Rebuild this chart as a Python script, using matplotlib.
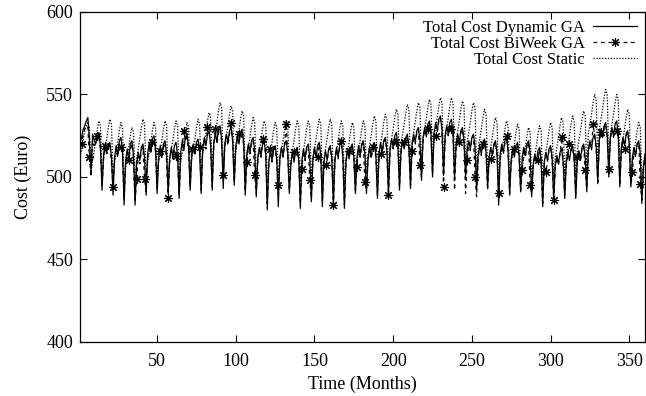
import numpy as np
import matplotlib
matplotlib.use("Agg")
import matplotlib.pyplot as plt

plt.rcParams['font.family'] = ['Liberation Serif', 'DejaVu Serif']

# ---------------- data ----------------
months = np.arange(1, 361)

dynamic_ga = [
    520, 524, 529, 531, 534, 536, 522,   # 1-7
    503, 526, 522, 520, 525, 527, 518,   # 8-14
    492, 514, 520, 515, 519, 521, 512,   # 15-21
    489, 512, 519, 513, 522, 524, 516,   # 22-28
    483, 510, 517, 511, 520, 522, 513,   # 29-35
    483, 508, 515, 510, 518, 520, 512,   # 36-42
    489, 514, 521, 515, 523, 525, 517,   # 43-49
    490, 512, 519, 512, 520, 522, 514,   # 50-56
    490, 511, 518, 512, 519, 521, 513,   # 57-63
    487, 515, 522, 516, 524, 526, 518,   # 64-70
    492, 513, 520, 514, 521, 523, 515,   # 71-77
    490, 518, 524, 519, 526, 528, 520,   # 78-84
    492, 520, 527, 521, 529, 531, 523,   # 85-91
    493, 520, 526, 521, 528, 530, 522,   # 92-98
    495, 519, 525, 520, 527, 529, 521,   # 99-105
    489, 514, 520, 515, 522, 524, 516,   # 106-112
    488, 512, 518, 513, 520, 522, 514,   # 113-119
    480, 509, 516, 510, 517, 519, 511,   # 120-126
    482, 512, 518, 513, 520, 522, 514,   # 127-133
    490, 508, 515, 509, 516, 518, 510,   # 134-140
    481, 510, 517, 511, 518, 520, 512,   # 141-147
    485, 511, 518, 512, 519, 521, 513,   # 148-154
    482, 509, 516, 510, 517, 519, 511,   # 155-161
    482, 511, 518, 512, 519, 521, 513,   # 162-168
    481, 510, 517, 511, 518, 520, 512,   # 169-175
    490, 512, 519, 513, 520, 522, 514,   # 176-182
    490, 511, 518, 512, 519, 521, 513,   # 183-189
    487, 514, 521, 515, 522, 524, 516,   # 190-196
    489, 517, 523, 518, 525, 527, 519,   # 197-203
    492, 516, 522, 517, 524, 526, 518,   # 204-210
    493, 520, 526, 521, 528, 530, 522,   # 211-217
    498, 524, 530, 525, 532, 534, 526,   # 218-224
    500, 527, 533, 528, 535, 537, 529,   # 225-231
    501, 525, 531, 526, 533, 535, 527,   # 232-238
    499, 520, 526, 521, 528, 530, 522,   # 239-245
    500, 516, 522, 517, 524, 526, 518,   # 246-252
    492, 513, 519, 514, 521, 523, 515,   # 253-259
    494, 512, 518, 513, 520, 522, 514,   # 260-266
    483, 514, 520, 515, 522, 524, 516,   # 267-273
    489, 511, 517, 512, 519, 521, 513,   # 274-280
    491, 512, 518, 513, 520, 522, 514,   # 281-287
    488, 508, 514, 509, 516, 518, 510,   # 288-294
    482, 509, 515, 510, 517, 519, 511,   # 295-301
    487, 507, 513, 508, 515, 517, 509,   # 302-308
    487, 509, 515, 510, 517, 519, 511,   # 309-315
    487, 510, 516, 511, 518, 520, 512,   # 316-322
    491, 516, 522, 517, 524, 526, 518,   # 323-329
    496, 523, 529, 524, 531, 533, 525,   # 330-336
    500, 524, 530, 525, 532, 534, 526,   # 337-343
    494, 518, 524, 519, 526, 528, 520,   # 344-350
    494, 512, 518, 513, 520, 522, 514,   # 351-357
    484, 505, 514,                       # 358-360
]

biweek_ga = [
    519, 520, 526, 529, 531, 530, 512,   # 1-7
    500, 522, 519, 521, 525, 524, 517,   # 8-14
    494, 512, 519, 514, 518, 520, 508,   # 15-21
    494, 512, 517, 512, 520, 518, 514,   # 22-28
    486, 508, 515, 510, 517, 520, 512,   # 29-35
    486, 499, 513, 508, 516, 518, 499,   # 36-42
    491, 512, 519, 514, 521, 523, 515,   # 43-49
    493, 511, 516, 511, 518, 521, 510,   # 50-56
    487, 510, 517, 511, 517, 513, 511,   # 57-63
    489, 514, 520, 528, 522, 524, 516,   # 64-70
    494, 517, 519, 513, 520, 521, 518,   # 71-77
    492, 516, 523, 517, 530, 527, 519,   # 78-84
    494, 519, 529, 520, 527, 529, 521,   # 85-91
    501, 519, 525, 519, 526, 533, 521,   # 92-98
    497, 518, 523, 526, 525, 527, 519,   # 99-105
    491, 509, 519, 514, 521, 522, 501,   # 106-112
    490, 511, 517, 512, 523, 521, 513,   # 113-119
    484, 508, 517, 509, 516, 518, 509,   # 120-126
    495, 511, 517, 512, 519, 532, 513,   # 127-133
    492, 507, 514, 515, 515, 517, 509,   # 134-140
    484, 505, 516, 510, 517, 518, 498,   # 141-147
    487, 510, 517, 511, 512, 520, 512,   # 148-154
    485, 508, 507, 509, 516, 518, 510,   # 155-161
    483, 510, 517, 511, 518, 522, 512,   # 162-168
    483, 509, 516, 516, 517, 519, 511,   # 169-175
    492, 506, 518, 512, 519, 521, 497,   # 176-182
    492, 510, 517, 511, 518, 520, 512,   # 183-189
    489, 513, 514, 514, 521, 523, 515,   # 190-196
    489, 516, 522, 517, 524, 521, 518,   # 197-203
    494, 515, 521, 521, 523, 525, 517,   # 204-210
    495, 516, 525, 520, 527, 529, 507,   # 211-217
    500, 523, 529, 524, 529, 533, 525,   # 218-224
    502, 526, 525, 527, 534, 536, 528,   # 225-231
    494, 524, 530, 525, 532, 529, 526,   # 232-238
    492, 519, 525, 521, 527, 529, 521,   # 239-245
    490, 510, 521, 516, 523, 525, 500,   # 246-252
    488, 512, 518, 513, 520, 522, 514,   # 253-259
    492, 511, 511, 512, 519, 521, 513,   # 260-266
    490, 513, 519, 514, 521, 525, 515,   # 267-273
    490, 510, 516, 517, 518, 520, 512,   # 274-280
    492, 504, 517, 512, 519, 521, 495,   # 281-287
    490, 507, 513, 508, 510, 517, 509,   # 288-294
    484, 508, 503, 509, 516, 518, 510,   # 295-301
    486, 506, 512, 507, 514, 524, 508,   # 302-308
    489, 508, 514, 520, 516, 518, 510,   # 309-315
    489, 512, 515, 510, 517, 519, 504,   # 316-322
    493, 515, 521, 516, 532, 525, 517,   # 323-329
    497, 522, 527, 523, 530, 532, 524,   # 330-336
    505, 523, 529, 524, 531, 528, 525,   # 337-343
    495, 517, 523, 517, 525, 527, 519,   # 344-350
    495, 503, 517, 512, 519, 521, 496,   # 351-357
    486, 504, 512,                       # 358-360
]

static_cost = [
    512, 516, 522, 528, 531, 533, 530,   # 1-7
    503, 510, 516, 522, 529, 534, 531,   # 8-14
    500, 511, 517, 523, 530, 535, 532,   # 15-21
    499, 509, 515, 521, 528, 533, 530,   # 22-28
    497, 506, 512, 518, 525, 530, 527,   # 29-35
    498, 511, 517, 523, 530, 535, 532,   # 36-42
    500, 509, 515, 521, 528, 533, 530,   # 43-49
    501, 510, 516, 522, 529, 534, 531,   # 50-56
    500, 510, 516, 522, 529, 534, 531,   # 57-63
    499, 509, 515, 521, 528, 533, 530,   # 64-70
    502, 511, 517, 523, 530, 535, 532,   # 71-77
    502, 515, 521, 527, 534, 539, 536,   # 78-84
    504, 521, 527, 533, 540, 545, 542,   # 85-91
    505, 519, 525, 531, 538, 543, 540,   # 92-98
    506, 516, 522, 528, 535, 540, 537,   # 99-105
    501, 512, 518, 524, 531, 536, 533,   # 106-112
    500, 510, 516, 522, 529, 534, 531,   # 113-119
    496, 509, 515, 521, 528, 533, 530,   # 120-126
    497, 510, 516, 522, 529, 534, 531,   # 127-133
    502, 510, 516, 522, 529, 534, 531,   # 134-140
    497, 510, 516, 522, 529, 534, 531,   # 141-147
    499, 511, 517, 523, 530, 535, 532,   # 148-154
    497, 511, 517, 523, 530, 535, 532,   # 155-161
    497, 510, 516, 522, 529, 534, 531,   # 162-168
    496, 509, 515, 521, 528, 533, 530,   # 169-175
    502, 510, 516, 522, 529, 534, 531,   # 176-182
    502, 513, 519, 525, 532, 537, 534,   # 183-189
    500, 514, 520, 526, 533, 538, 535,   # 190-196
    502, 517, 523, 529, 536, 541, 538,   # 197-203
    504, 520, 526, 532, 539, 544, 541,   # 204-210
    505, 521, 527, 533, 540, 545, 542,   # 211-217
    508, 523, 529, 535, 542, 547, 544,   # 218-224
    510, 524, 530, 536, 543, 548, 545,   # 225-231
    510, 524, 530, 536, 543, 548, 545,   # 232-238
    509, 522, 528, 534, 541, 546, 543,   # 239-245
    509, 521, 527, 533, 540, 545, 542,   # 246-252
    503, 517, 523, 529, 536, 541, 538,   # 253-259
    504, 512, 518, 524, 531, 536, 533,   # 260-266
    497, 510, 516, 522, 529, 534, 531,   # 267-273
    500, 508, 514, 520, 527, 532, 529,   # 274-280
    501, 506, 512, 518, 525, 530, 527,   # 281-287
    499, 507, 513, 519, 526, 531, 528,   # 288-294
    496, 509, 515, 521, 528, 533, 530,   # 295-301
    499, 512, 518, 524, 531, 536, 533,   # 302-308
    500, 513, 519, 525, 532, 537, 534,   # 309-315
    500, 516, 522, 528, 535, 540, 537,   # 316-322
    503, 526, 532, 538, 545, 550, 547,   # 323-329
    508, 529, 535, 541, 548, 553, 550,   # 330-336
    510, 526, 532, 538, 545, 550, 547,   # 337-343
    505, 517, 523, 529, 536, 541, 538,   # 344-350
    503, 509, 515, 521, 528, 533, 530,   # 351-357
    498, 508, 514,                       # 358-360
]

series_labels = ["Total Cost Dynamic GA", "Total Cost BiWeek GA", "Total Cost Static"]
x_ticks = [50, 100, 150, 200, 250, 300, 350]
y_ticks = [400, 450, 500, 550, 600]

# ---------------- figure ----------------
fig = plt.figure(figsize=(6.46, 3.96), dpi=100)
ax = fig.add_axes([80 / 646, 54 / 396, 565 / 646, 330 / 396])

fs = 13
l_static, = ax.plot(months, static_cost, color='black', lw=0.9,
                    linestyle=(0, (1, 1.3)), zorder=2)
l_dyn, = ax.plot(months, dynamic_ga, color='black', lw=0.9, zorder=3)
l_bi, = ax.plot(months, biweek_ga, color='black', lw=0.9,
                linestyle=(0, (3, 3)), marker=(8, 2, 0), markersize=6.5,
                markeredgewidth=0.8, markevery=(1, 5), zorder=4)

ax.set_xlim(1, 360)
ax.set_ylim(400, 600)
ax.set_xticks(x_ticks)
ax.set_yticks(y_ticks)
ax.tick_params(direction='in', length=5, width=0.8, top=True, right=True,
               labelsize=fs)
ax.tick_params(axis='x', pad=8)
ax.tick_params(axis='y', pad=5)
for s in ax.spines.values():
    s.set_linewidth(0.9)

ax.set_xlabel("Time (Months)", fontsize=fs, labelpad=4)
ax.set_ylabel("Cost (Euro)", fontsize=fs, labelpad=10)

ax.legend([l_dyn, l_bi, l_static], series_labels, loc='upper right',
          frameon=False, markerfirst=False, fontsize=12,
          handlelength=2.6, handletextpad=0.5, labelspacing=0.0,
          borderaxespad=0.2, borderpad=0.3)

fig.savefig("out.png", dpi=100)
